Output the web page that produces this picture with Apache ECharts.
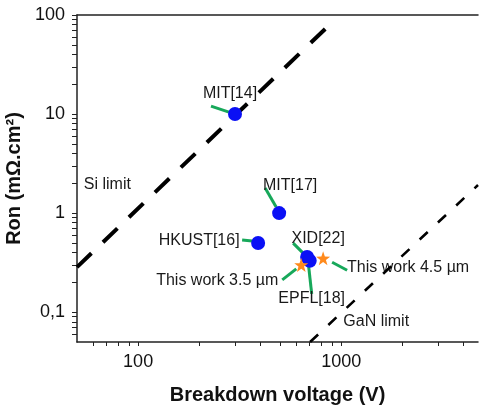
<!DOCTYPE html>
<html>
<head>
<meta charset="utf-8">
<script src="https://cdn.jsdelivr.net/npm/echarts@6/dist/echarts.min.js"></script>
<style>
html,body{margin:0;padding:0;background:#fff;}
#chart{width:480px;height:409px;}
</style>
</head>
<body>
<div id="chart"></div>
<script>
// ---- data ----
const devLabels = ['MIT[14]', 'MIT[17]', 'HKUST[16]', 'XID[22]', 'EPFL[18]'];
const devV = [300, 495, 390, 680, 700];
const devRon = [10, 1, 0.5, 0.36, 0.33];

const workLabels = ['This work 3.5 µm', 'This work 4.5 µm'];
const workV = [636, 815];
const workRon = [0.30, 0.35];

const siV = [50, 850];
const siRon = [0.285, 75];
const ganV = [703, 4720];
const ganRon = [0.05, 1.92];

const xTickLabels = [100, 1000];
const yTickLabels = [0.1, 1, 10, 100];
const xMinorTicks = [60, 70, 80, 90, 200, 300, 400, 500, 600, 700, 800, 900, 2000, 3000, 4000];
const yMinorTicks = [0.06, 0.07, 0.08, 0.09, 0.2, 0.3, 0.4, 0.5, 0.6, 0.7, 0.8, 0.9,
                     2, 3, 4, 5, 6, 7, 8, 9, 20, 30, 40, 50, 60, 70, 80, 90];

const annTexts = ['Si limit', 'GaN limit'];
const annV = [54, 1025];
const annRon = [1.96, 0.081];

// ---- layout (pixel offsets relative to the point) ----
const leaderLayout = [
  {t: [-5, -20], a: [-24, -8], b: [-6, -2]},
  {t: [11, -28], a: [-14, -25], b: [-3, -6]},
  {t: [-59, -2], a: [-16, -3], b: [-6, -2]},
  {t: [11, -18], a: [-14, -14], b: [-4, -4]},
  {t: [2, 38], a: [-1, 6], b: [2, 33]},
  {t: [-84, 16], a: [-19, 15], b: [-5, 4]},
  {t: [85, 9], a: [9, 4], b: [24, 12]}
];

const FONT = '"Liberation Sans", Arial, sans-serif';
const allLabels = devLabels.concat(workLabels);
const allV = devV.concat(workV);
const allRon = devRon.concat(workRon);
const leaderData = allLabels.map((l, i) => [allV[i], allRon[i], i]);
const annData = annTexts.map((t, i) => [annV[i], annRon[i], i]);

const star = 'path://M0,-10 L2.35,-3.24 9.51,-3.09 3.8,1.24 5.88,8.09 0,4 -5.88,8.09 -3.8,1.24 -9.51,-3.09 -2.35,-3.24Z';

const chart = echarts.init(document.getElementById('chart'), null, {renderer: 'canvas'});
const fmt = v => String(v).replace('.', ',');

chart.setOption({
  animation: false,
  backgroundColor: '#fff',
  grid: {left: 77, right: 2, top: 15, bottom: 67, containLabel: false, outerBoundsMode: 'none'},
  xAxis: [{
    type: 'log', min: 50, max: 4720, position: 'bottom',
    name: 'Breakdown voltage (V)', nameLocation: 'middle', nameGap: 43,
    nameTextStyle: {fontFamily: FONT, fontSize: 20, fontWeight: 'bold', color: '#111'},
    axisLine: {show: true, lineStyle: {color: '#222', width: 1.5}},
    axisTick: {show: true, length: 4, customValues: xTickLabels.concat(xMinorTicks), lineStyle: {color: '#222', width: 1}},
    axisLabel: {customValues: xTickLabels, fontFamily: FONT, fontSize: 18, color: '#111', margin: 11, formatter: fmt},
    splitLine: {show: false}, minorTick: {show: false}
  }, {
    type: 'log', min: 50, max: 4720, position: 'top',
    axisLine: {show: true, lineStyle: {color: '#222', width: 1.5}},
    axisTick: {show: false}, axisLabel: {show: false}, splitLine: {show: false}
  }],
  yAxis: [{
    type: 'log', min: 0.05, max: 100,
    name: 'Ron (mΩ.cm²)', nameLocation: 'middle', nameGap: 50,
    nameTextStyle: {fontFamily: FONT, fontSize: 20, fontWeight: 'bold', color: '#111'},
    axisLine: {show: true, lineStyle: {color: '#222', width: 1.5}},
    axisTick: {show: true, length: 5, customValues: yTickLabels.concat(yMinorTicks), lineStyle: {color: '#222', width: 1}},
    axisLabel: {customValues: yTickLabels, fontFamily: FONT, fontSize: 18, color: '#111', margin: 12, formatter: fmt},
    splitLine: {show: false}
  }],
  series: [
    {
      type: 'line', name: 'Si limit', data: siV.map((v, i) => [v, siRon[i]]),
      showSymbol: false, symbol: 'none', silent: true, z: 3,
      lineStyle: {color: '#000', width: 4, type: [20, 16]}
    },
    {
      type: 'line', name: 'GaN limit', data: ganV.map((v, i) => [v, ganRon[i]]),
      showSymbol: false, symbol: 'none', silent: true, z: 3,
      lineStyle: {color: '#000', width: 2.6, type: [11, 14]}
    },
    {
      type: 'custom', name: 'leaders', data: leaderData, z: 2, clip: false,
      encode: {x: 0, y: 1},
      renderItem: function (params, api) {
        const p = api.coord([api.value(0), api.value(1)]);
        const L = leaderLayout[api.value(2)];
        return {
          type: 'group',
          children: [
            {type: 'line', shape: {x1: p[0] + L.a[0], y1: p[1] + L.a[1], x2: p[0] + L.b[0], y2: p[1] + L.b[1]},
             style: {stroke: '#17a85a', lineWidth: 3}},
            {type: 'text', style: {x: p[0] + L.t[0], y: p[1] + L.t[1], text: allLabels[api.value(2)],
             font: '16px ' + FONT, fill: '#1a1a1a', align: 'center', verticalAlign: 'middle'}}
          ]
        };
      }
    },
    {
      type: 'custom', name: 'annotations', data: annData, z: 2, clip: false,
      encode: {x: 0, y: 1},
      renderItem: function (params, api) {
        const p = api.coord([api.value(0), api.value(1)]);
        return {type: 'text', style: {x: p[0], y: p[1], text: annTexts[api.value(2)],
          font: '16px ' + FONT, fill: '#1a1a1a', align: 'left', verticalAlign: 'middle'}};
      }
    },
    {
      type: 'scatter', name: 'devices', data: devV.map((v, i) => [v, devRon[i]]),
      symbol: 'circle', symbolSize: 14, z: 5,
      itemStyle: {color: '#0a10f5', opacity: 1}
    },
    {
      type: 'scatter', name: 'this work', data: workV.map((v, i) => [v, workRon[i]]),
      symbol: star, symbolSize: 14, z: 6,
      itemStyle: {color: '#ff8a1c', opacity: 1}
    }
  ]
});
</script>
</body>
</html>
